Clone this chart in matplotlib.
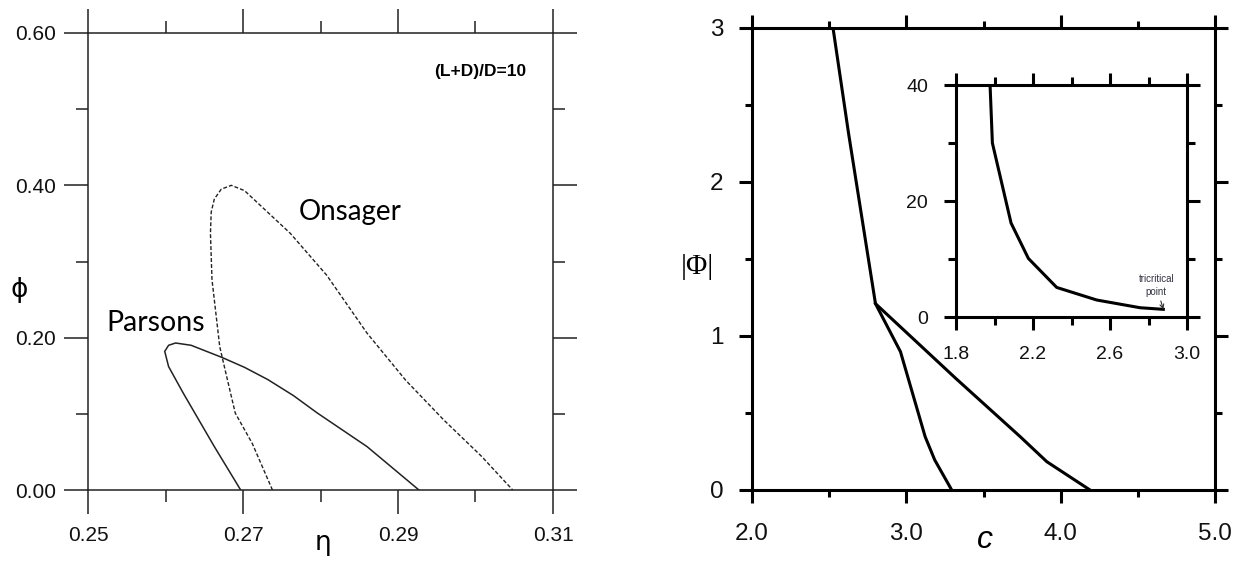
import matplotlib
matplotlib.use("Agg")
import matplotlib.pyplot as plt
from matplotlib.ticker import MultipleLocator, FixedLocator, FormatStrFormatter

plt.rcParams["font.family"] = ["Liberation Sans", "DejaVu Sans"]

# left panel: phase boundaries, eta vs phi
parsons_eta = [0.2697, 0.2663, 0.2623, 0.2604, 0.2599, 0.2604, 0.2613, 0.2633,
               0.2673, 0.2702, 0.2732, 0.2765, 0.2796, 0.2860, 0.2927]
parsons_phi = [0.0, 0.057, 0.127, 0.162, 0.182, 0.190, 0.193, 0.190,
               0.174, 0.161, 0.145, 0.124, 0.101, 0.057, 0.0]
onsager_eta = [0.2738, 0.2712, 0.2690, 0.2678, 0.2670, 0.2660, 0.2658, 0.2659,
               0.2663, 0.2672, 0.2685, 0.2702, 0.2761, 0.2808, 0.2860, 0.2910,
               0.2959, 0.3008, 0.3048]
onsager_phi = [0.0, 0.061, 0.101, 0.153, 0.188, 0.276, 0.337, 0.365,
               0.382, 0.395, 0.400, 0.393, 0.337, 0.282, 0.206, 0.144,
               0.092, 0.044, 0.0]

# right panel: |Phi| vs c
upper_c = [2.525, 2.625, 2.80, 3.32, 3.737, 3.91, 4.19]
upper_phi = [3.0, 2.32, 1.21, 0.725, 0.347, 0.184, 0.0]
lower_c = [2.80, 2.962, 3.122, 3.184, 3.294]
lower_phi = [1.21, 0.898, 0.346, 0.195, 0.0]

# inset
inset_c = [1.977, 1.989, 2.086, 2.176, 2.323, 2.531, 2.756, 2.877]
inset_phi = [40, 30, 16.2, 10.1, 5.1, 2.93, 1.6, 1.32]

W, H = 1238, 561
fig = plt.figure(figsize=(W / 100, H / 100), dpi=100)


def box(x0, y0, x1, y1):
    # pixel box (top-left origin) -> figure fraction
    return [x0 / W, 1 - y1 / H, (x1 - x0) / W, (y1 - y0) / H]


def style_axes(ax, lw, color, major, minor, size, pad):
    for s in ax.spines.values():
        s.set_linewidth(lw)
        s.set_color(color)
    ax.tick_params(which="both", direction="out", top=True, right=True,
                   width=lw, color=color, labelcolor="#111111")
    ax.tick_params(which="major", length=major, labelsize=size, pad=pad)
    ax.tick_params(which="minor", length=minor)


# ---- left panel ----
ax1 = fig.add_axes(box(88, 33, 553, 490))
ax1.plot(parsons_eta, parsons_phi, color="#222222", lw=1.1)
ax1.plot(onsager_eta, onsager_phi, color="#222222", lw=1.0, dashes=(2.8, 1.5))
ax1.set_xlim(0.25, 0.31)
ax1.set_ylim(0, 0.6)
ax1.xaxis.set_major_locator(FixedLocator([0.25, 0.27, 0.29, 0.31]))
ax1.xaxis.set_minor_locator(FixedLocator([0.26, 0.28, 0.30]))
ax1.yaxis.set_major_locator(MultipleLocator(0.2))
ax1.yaxis.set_minor_locator(FixedLocator([0.1, 0.3, 0.5]))
ax1.xaxis.set_major_formatter(FormatStrFormatter("%.2f"))
ax1.yaxis.set_major_formatter(FormatStrFormatter("%.2f"))
style_axes(ax1, 1.1, "#222222", 17, 8.5, 15, 8)
ax1.tick_params(axis="y", pad=6)
ax1.tick_params(axis="x", pad=9)
ax1.set_xlabel("η", fontsize=19, family="DejaVu Sans", va="baseline")
ax1.xaxis.set_label_coords(0.505, -0.131)
ax1.set_ylabel("ϕ", fontsize=19, rotation=0, family="DejaVu Sans", va="center", ha="center")
ax1.yaxis.set_label_coords(-0.148, 0.438)
ax1.text(0.2838, 0.365, "Onsager", fontsize=20, family="Lato", ha="center", va="center")
ax1.text(0.25877, 0.2193, "Parsons", fontsize=20.5, family="Lato", ha="center", va="center")
ax1.text(0.3006, 0.5488, "(L+D)/D=10", fontsize=12.5, ha="center", va="center",
         fontweight="bold")

# ---- right panel ----
ax2 = fig.add_axes(box(752, 28, 1215, 490))
ax2.plot(upper_c, upper_phi, color="black", lw=2.2)
ax2.plot(lower_c, lower_phi, color="black", lw=2.2)
ax2.set_xlim(2.0, 5.0)
ax2.set_ylim(0, 3)
ax2.xaxis.set_major_locator(MultipleLocator(1.0))
ax2.xaxis.set_minor_locator(MultipleLocator(0.5))
ax2.yaxis.set_major_locator(MultipleLocator(1))
ax2.yaxis.set_minor_locator(MultipleLocator(0.5))
ax2.xaxis.set_major_formatter(FormatStrFormatter("%.1f"))
ax2.yaxis.set_major_formatter(FormatStrFormatter("%d"))
style_axes(ax2, 2.2, "black", 9.5, 5, 17.5, 11)
ax2.tick_params(axis="x", pad=14)
ax2.set_xlabel("c", fontsize=23, style="italic", va="baseline")
ax2.xaxis.set_label_coords(0.503, -0.1255)
ax2.set_ylabel("|Φ|", fontsize=21, rotation=0, family="Liberation Serif", va="center", ha="center")
ax2.yaxis.set_label_coords(-0.119, 0.483)

# ---- inset ----
ax3 = fig.add_axes(box(956, 85, 1187, 317))
ax3.plot(inset_c, inset_phi, color="black", lw=2.2)
ax3.set_xlim(1.8, 3.0)
ax3.set_ylim(0, 40)
ax3.xaxis.set_major_locator(FixedLocator([1.8, 2.2, 2.6, 3.0]))
ax3.xaxis.set_minor_locator(FixedLocator([2.0, 2.4, 2.8]))
ax3.yaxis.set_major_locator(MultipleLocator(20))
ax3.yaxis.set_minor_locator(FixedLocator([10, 30]))
ax3.xaxis.set_major_formatter(FormatStrFormatter("%.1f"))
ax3.yaxis.set_major_formatter(FormatStrFormatter("%d"))
style_axes(ax3, 2.2, "black", 9, 5.5, 14, 11)
ax3.tick_params(axis="x", pad=12)
ax3.annotate("tricritical\npoint", xy=(inset_c[-1], inset_phi[-1]), xytext=(2.84, 5.4),
             fontsize=7, color="#333344", ha="center", va="center",
             linespacing=1.3,
             arrowprops=dict(arrowstyle="->", color="#333333", lw=0.8, shrinkA=1, shrinkB=0))

fig.savefig("out.png", dpi=100)
